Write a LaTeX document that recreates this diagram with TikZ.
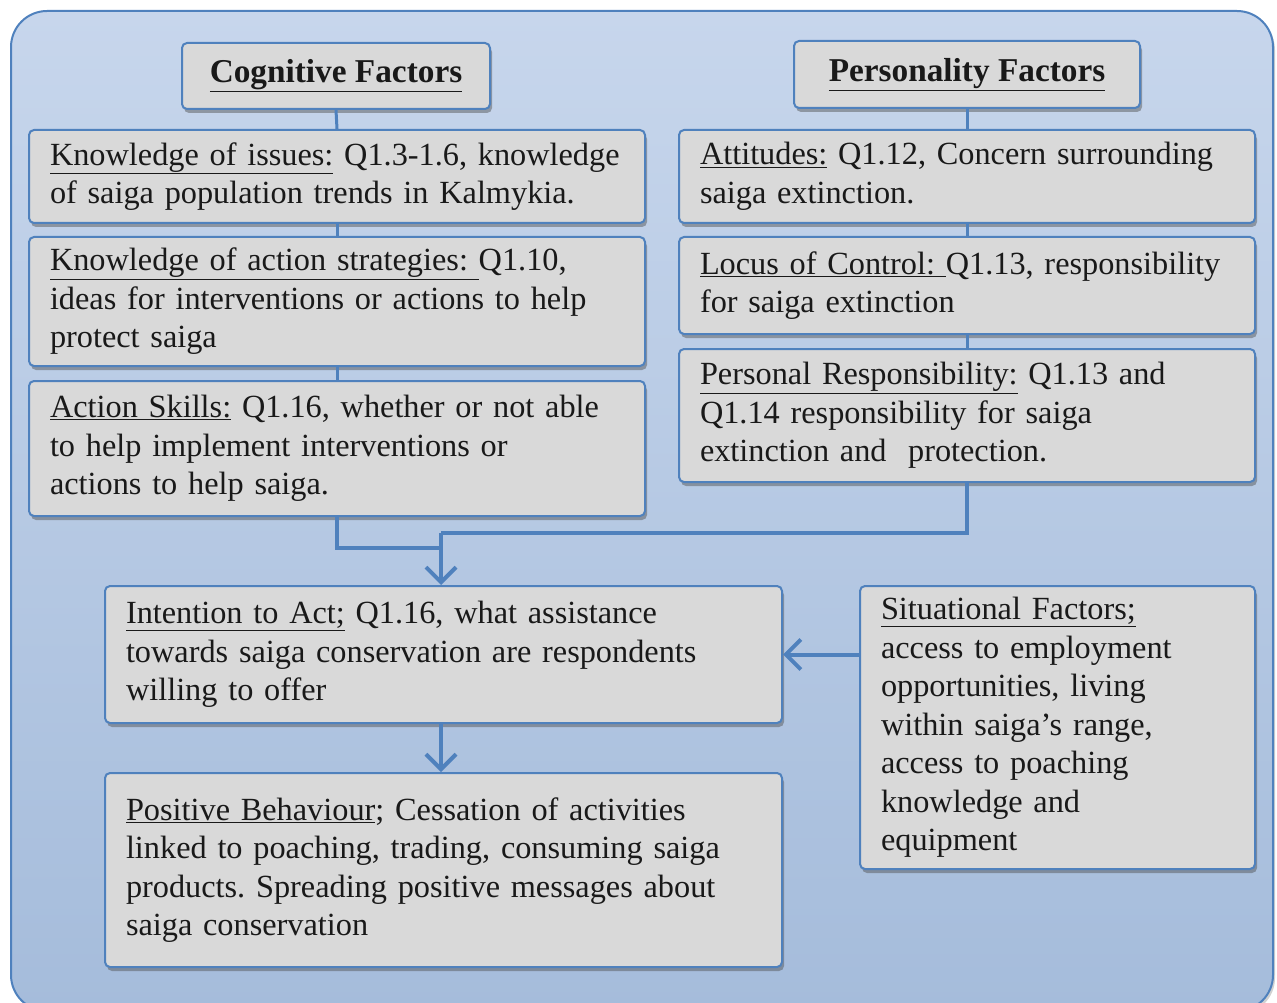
\documentclass[tikz,border=0pt]{standalone}
\usepackage{fontspec}
\setmainfont{Liberation Serif}
\usetikzlibrary{shadows,arrows.meta}
\definecolor{bordblue}{RGB}{79,129,189}
\definecolor{boxgray}{RGB}{217,217,217}
\definecolor{bgtop}{RGB}{199,214,236}
\definecolor{bgbot}{RGB}{165,188,219}
\definecolor{txt}{RGB}{25,25,25}
\newcommand{\bodyfnt}{\fontsize{32.3}{38.5}\selectfont\frenchspacing\hyphenpenalty=10000\exhyphenpenalty=10000}
\tikzset{
  box/.style={draw=bordblue, line width=2pt, fill=boxgray, rounded corners=5pt,
    anchor=north west, inner xsep=21pt, inner ysep=0pt, align=left,
    font=\bodyfnt, text=txt,
    drop shadow={shadow xshift=2pt, shadow yshift=-4pt, opacity=0.45, fill=black!70}},
  titlebox/.style={box, align=center, inner xsep=0pt, font=\fontsize{33.3}{38.5}\selectfont\bfseries},
  conn/.style={draw=bordblue, line width=4pt},
  arr/.style={conn, -{Straight Barb[length=15pt,width=30pt,line width=4pt]}}
}
\begin{document}
\begin{tikzpicture}[x=1pt,y=-1pt]
\useasboundingbox (0,0) rectangle (1277,1003);
\clip (0,0) rectangle (1277,1003);
\node[draw=bordblue, line width=2pt, rounded corners=36pt, top color=bgtop, bottom color=bgbot,
  anchor=north west, minimum width=1262pt, minimum height=1000pt, inner sep=0pt,
  drop shadow={shadow xshift=2pt, shadow yshift=-3pt, opacity=0.3, fill=black!60}] (bg) at (10,10) {};

% Titles
\node[titlebox, minimum width=308pt, minimum height=66pt] (cog) at (181,42) {\underline{Cognitive Factors}};
\node[titlebox, minimum width=346pt, minimum height=67pt] (pers) at (793,40) {\underline{Personality Factors}};

% Left column
\node[box, text width=574pt, minimum height=93pt] (ki) at (28,129)
  {\underline{Knowledge of issues:} Q1.3-1.6, knowledge\\of saiga population trends in Kalmykia.};
\node[box, text width=574pt, minimum height=129pt] (kas) at (28,236)
  {\underline{Knowledge of action strategies:\ }Q1.10,\\ideas for interventions or actions to help\\protect saiga};
\node[box, text width=574pt, minimum height=135pt] (as) at (28,380)
  {\underline{Action Skills:} Q1.16, whether or not able\\to help implement interventions or\\actions to help saiga.};

% Right column
\node[box, text width=534pt, minimum height=93pt] (att) at (678,129)
  {\underline{Attitudes:} Q1.12, Concern surrounding\\saiga extinction.};
\node[box, text width=534pt, minimum height=97pt] (loc) at (678,236)
  {\underline{Locus of Control:\ }Q1.13, responsibility\\for saiga extinction};
\node[box, text width=534pt, minimum height=133pt] (pr) at (678,348)
  {\underline{Personal Responsibility:} Q1.13 and\\Q1.14 responsibility for saiga\\extinction and\ \ protection.};

% Lower boxes
\node[box, text width=635pt, minimum height=137pt] (ita) at (104,585)
  {\underline{Intention to Act;} Q1.16, what assistance\\towards saiga conservation are respondents\\willing to offer};
\node[box, text width=635pt, minimum height=194pt] (pb) at (104,772)
  {\underline{Positive Behaviour}; Cessation of activities\\linked to poaching, trading, consuming saiga\\products. Spreading positive messages about\\saiga conservation};
\node[box, text width=353pt, minimum height=283pt] (sit) at (859,585)
  {\underline{Situational Factors;}\\access to employment\\opportunities, living\\within saiga’s range,\\access to poaching\\knowledge and\\equipment};

% Connectors
\draw[conn, line width=3pt] (cog.south) -- (ki.north);
\draw[conn, line width=3pt] (ki.south) -- (kas.north);
\draw[conn, line width=3pt] (kas.south) -- (as.north);
\draw[conn, line width=3pt] (pers.south) -- (att.north);
\draw[conn, line width=3pt] (att.south) -- (loc.north);
\draw[conn, line width=3pt] (loc.south) -- (pr.north);

\coordinate (jL) at (441,548);
\coordinate (jR) at (441,533);
\draw[conn, line join=miter] (as.south) |- (jL);
\draw[conn, line join=miter] (pr.south) |- (jR);
\draw[arr] (jR) -- (jR |- ita.north);
\draw[arr] (jR |- ita.south) -- (jR |- pb.north);
\draw[arr] (sit.west |- ita.east) -- (ita.east);
\end{tikzpicture}
\end{document}
